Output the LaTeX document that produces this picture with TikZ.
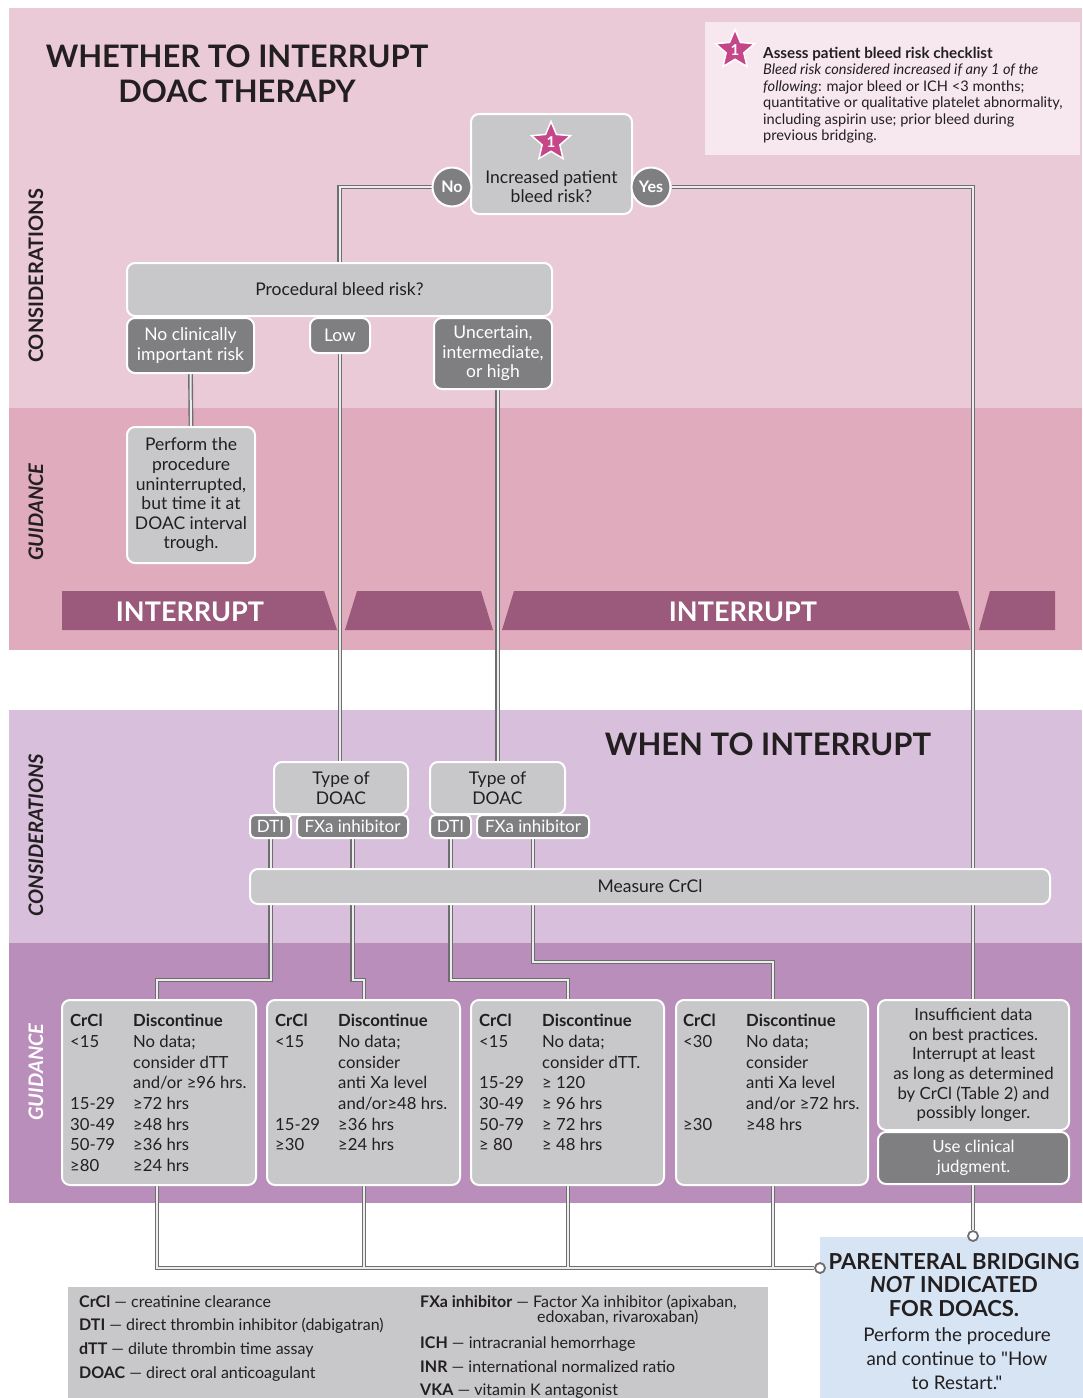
\documentclass[tikz,border=0pt]{standalone}
\usepackage{fontspec}
\setmainfont{Lato}[Ligatures=TeXOff]
\usetikzlibrary{shapes.geometric}

\definecolor{bandA}{HTML}{EBCAD7}
\definecolor{bandB}{HTML}{E0ABBC}
\definecolor{bandC}{HTML}{D8C0DC}
\definecolor{bandD}{HTML}{B98EBB}
\definecolor{banner}{HTML}{9B5A7B}
\definecolor{boxgray}{HTML}{C8C8CA}
\definecolor{darkgray}{HTML}{7F7F81}
\definecolor{starc}{HTML}{C5478A}
\definecolor{notebg}{HTML}{F7E7EE}
\definecolor{bluebg}{HTML}{D6E4F4}
\definecolor{wireout}{HTML}{6E6E70}
\definecolor{wirein}{HTML}{EDEDED}
\definecolor{ink}{HTML}{231F20}

\newcommand\fs[2]{\fontsize{#1}{#2}\selectfont}
\newcommand\crcltab[1]{\begin{tabular}{@{}p{63pt}@{}l@{}}#1\end{tabular}}

\pgfdeclarelayer{bands}
\pgfdeclarelayer{wires}
\pgfsetlayers{bands,wires,main}

\tikzset{
  box/.style={draw=white, line width=2pt, fill=boxgray, rounded corners=8pt,
    text=ink, align=center, inner sep=0pt, font=\fs{17.5}{19.6}},
  darkbox/.style={box, fill=darkgray, text=white},
  pill/.style={darkbox, rounded corners=5pt, minimum height=23pt, font=\fs{17}{17}},
  answer/.style={circle, fill=darkgray, draw=white, line width=2pt, minimum size=39pt,
    inner sep=0pt, text=white, font=\bfseries\fs{16}{16}},
  badge/.style={star, star points=5, star point ratio=2.2, fill=starc, draw=white,
    line width=1.5pt, minimum size=41pt, inner sep=0pt, text=white, font=\bfseries\fs{15}{15}},
  term/.style={circle, draw=wireout, fill=white, line width=1.8pt, minimum size=10pt, inner sep=0pt},
  tabtext/.style={anchor=north west, inner sep=0pt, text=ink, font=\fs{16.7}{20.7}},
  sidelabel/.style={rotate=90, text=ink, font=\bfseries\fs{20}{20}},
  heading/.style={text=ink, font=\bfseries\fs{31}{35}, align=center},
}

% connectors, drawn twice (outline, then core)
\newcommand\wirepaths{%
  \draw (no.west) -| (proc.north);
  \draw (yes.east) -| (tyes.north);
  \draw (nocl.south) -- (perform.north);
  \draw (low.south) -- (low.south |- doac1.north);
  \draw (doac2.north |- unc.south) -- (doac2.north);
  \draw (dti1.south) |- (j1) -- (j1 |- tab1.north);
  \draw (fxa1.south) |- (j2) -- (j2 |- tab2.north);
  \draw (dti2.south) |- (j3) -- (j3 |- tab3.north);
  \draw (fxa2.south) |- (j4) -- (j4 |- tab4.north);
  \foreach \j/\t in {j1/tab1,j2/tab2,j3/tab3,j4/tab4}
    \draw (\j |- \t.south) |- (tpb.west);
}

\begin{document}
\begin{tikzpicture}[x=1pt,y=-1pt]
\useasboundingbox (0,0) rectangle (1082,1398);

% bands
\begin{pgfonlayer}{bands}
\fill[bandA] (9,8) rectangle (1082,408);
\fill[bandB] (9,408) rectangle (1082,650);
\fill[bandC] (9,710) rectangle (1082,943);
\fill[bandD] (9,943) rectangle (1082,1203);
\fill[banner] (62,591) -- (324,591) -- (337,630) -- (62,630) -- cycle;
\fill[banner] (357,591) -- (481,591) -- (493,630) -- (345,630) -- cycle;
\fill[banner] (514,591) -- (958,591) -- (970,630) -- (502,630) -- cycle;
\fill[banner] (990,591) -- (1055,591) -- (1055,630) -- (979,630) -- cycle;
\end{pgfonlayer}

\node[sidelabel] (c1) at (36,276) {CONSIDERATIONS};
\node[sidelabel, font=\bfseries\itshape\fs{20}{20}] (g1) at (36,512) {GUIDANCE};
\node[sidelabel, font=\bfseries\itshape\fs{20}{20}] (c2) at (36,835) {CONSIDERATIONS};
\node[sidelabel, font=\bfseries\itshape\fs{20}{20}, text=white] (g2) at (36,1072) {GUIDANCE};

\node[heading] (title1) at (237,74) {WHETHER TO INTERRUPT\\DOAC THERAPY};
\node[heading] (title2) at (768,744) {WHEN TO INTERRUPT};

% checklist
\node[fill=notebg, anchor=north west, minimum width=375pt, minimum height=133pt] (note) at (705,22) {};
\node[badge] (s1) at (735,50) {1};
\node[anchor=north west, inner sep=0pt, text=ink, font=\fs{14.6}{16.4}, align=left] (notetext) at (763,47)
  {{\fs{15.2}{16.4}\textbf{Assess patient bleed risk checklist}}\\
   \textit{Bleed risk considered increased if any 1 of the}\\
   \textit{following}: major bleed or ICH <3 months;\\
   quantitative or qualitative platelet abnormality,\\
   including aspirin use; prior bleed during\\
   previous bridging.};

% whether to interrupt
\node[box, minimum width=161pt, minimum height=100pt] (qbox) at (551.5,164) {};
\node[badge] (s2) at (551,142) {1};
\node[text=ink, font=\fs{17.5}{19}, align=center] (qtext) at (551.5,186.5) {Increased patient\\bleed risk?};
\node[answer] (no) at (452,187) {No};
\node[answer] (yes) at (651,187) {Yes};

\node[box, minimum width=425pt, minimum height=53pt] (proc) at (339.5,289.5) {Procedural bleed risk?};
\node[darkbox, minimum width=127pt, minimum height=55pt] (nocl) at (190.5,345.5) {No clinically\\important risk};
\node[darkbox, minimum width=60pt, minimum height=35pt] (low) at (340,335.5) {Low};
\node[darkbox, minimum width=118pt, minimum height=71pt] (unc) at (493,353.5) {Uncertain,\\intermediate,\\or high};
\node[box, minimum width=128pt, minimum height=136pt] (perform) at (191,495)
  {Perform the\\procedure\\uninterrupted,\\but time it at\\DOAC interval\\trough.};

\node[font=\bfseries\fs{27}{27}, text=white] (int1) at (190,612) {INTERRUPT};
\node[font=\bfseries\fs{27}{27}, text=white] (int2) at (743,612) {INTERRUPT};

% when to interrupt
\node[box, minimum width=134pt, minimum height=52pt] (doac1) at (341,788) {Type of\\DOAC};
\node[box, minimum width=135pt, minimum height=52pt] (doac2) at (497.5,788) {Type of\\DOAC};
\node[pill, minimum width=41pt] (dti1) at (270.5,826.5) {DTI};
\node[pill, minimum width=111pt] (fxa1) at (352.5,826.5) {FXa inhibitor};
\node[pill, minimum width=41pt] (dti2) at (450.5,826.5) {DTI};
\node[pill, minimum width=112pt] (fxa2) at (533,826.5) {FXa inhibitor};
\node[box, minimum width=800pt, minimum height=35pt] (crcl) at (650,886.5) {Measure CrCl};

\coordinate (j1) at (157,980);
\coordinate (j2) at (364,980);
\coordinate (j3) at (568,980);
\coordinate (j4) at (773,962);

\node[box, minimum width=194pt, minimum height=185pt] (tab1) at (159,1092.5) {};
\node[box, minimum width=193pt, minimum height=185pt] (tab2) at (363.5,1092.5) {};
\node[box, minimum width=193pt, minimum height=185pt] (tab3) at (567.5,1092.5) {};
\node[box, minimum width=192pt, minimum height=185pt] (tab4) at (772,1092.5) {};
\node[box, minimum width=191pt, minimum height=130pt, font=\fs{16.8}{19.6}] (insuf) at (973.5,1065)
  {Insufficient data\\on best practices.\\Interrupt at least\\as long as determined\\by CrCl (Table 2) and\\possibly longer.};
\node[darkbox, minimum width=191pt, minimum height=52pt, font=\fs{16.8}{19.6}] (judg) at (973.5,1158) {Use clinical\\judgment.};

\node[tabtext] (t1) at (70,1012) {\crcltab{%
  \textbf{CrCl} & \textbf{Discontinue}\\
  <15 & No data;\\
   & consider dTT\\
   & and/or ≥96 hrs.\\
  15-29 & ≥72 hrs\\
  30-49 & ≥48 hrs\\
  50-79 & ≥36 hrs\\
  ≥80 & ≥24 hrs}};
\node[tabtext] (t2) at (275,1012) {\crcltab{%
  \textbf{CrCl} & \textbf{Discontinue}\\
  <15 & No data;\\
   & consider\\
   & anti Xa level\\
   & and/or≥48 hrs.\\
  15-29 & ≥36 hrs\\
  ≥30 & ≥24 hrs}};
\node[tabtext] (t3) at (479,1012) {\crcltab{%
  \textbf{CrCl} & \textbf{Discontinue}\\
  <15 & No data;\\
   & consider dTT.\\
  15-29 & ≥ 120\\
  30-49 & ≥ 96 hrs\\
  50-79 & ≥ 72 hrs\\
  ≥ 80 & ≥ 48 hrs}};
\node[tabtext] (t4) at (683,1012) {\crcltab{%
  \textbf{CrCl} & \textbf{Discontinue}\\
  <30 & No data;\\
   & consider\\
   & anti Xa level\\
   & and/or ≥72 hrs.\\
  ≥30 & ≥48 hrs}};

% bridging and glossary
\node[fill=bluebg, anchor=north west, minimum width=280pt, minimum height=170pt] (pbox) at (820,1237) {};
\node[anchor=north, inner sep=0pt, text=ink, font=\bfseries\fs{22}{23.5}, align=center] (ptitle) at (954,1253)
  {PARENTERAL BRIDGING\\\textit{NOT} INDICATED\\FOR DOACS.};
\node[anchor=north, inner sep=0pt, text=ink, font=\fs{18.8}{24}, align=center] (pbody) at (957,1327)
  {Perform the procedure\\and continue to "How\\to Restart."};
\node[term] (tyes) at (973,1236) {};
\node[term] (tpb) at (820,1268) {};

\node[fill=boxgray, anchor=north west, minimum width=700pt, minimum height=120pt] (legend) at (68,1287) {};
\node[anchor=north west, inner sep=0pt, text=ink, font=\fs{16}{23.7}, align=left] (gloss1) at (79,1295)
  {\textbf{CrCl} — creatinine clearance\\
   \textbf{DTI} — direct thrombin inhibitor (dabigatran)\\
   \textbf{dTT} — dilute thrombin time assay\\
   \textbf{DOAC} — direct oral anticoagulant};
\node[anchor=north west, inner sep=0pt, text=ink, font=\fs{16}{23.5}, align=left] (gloss2) at (420,1295)
  {\textbf{FXa inhibitor} — Factor Xa inhibitor (apixaban,\\[-8.5pt]
   \hspace*{117pt}edoxaban, rivaroxaban)\\[2.5pt]
   \textbf{ICH} — intracranial hemorrhage\\
   \textbf{INR} — international normalized ratio\\
   \textbf{VKA} — vitamin K antagonist};

% connectors
\begin{pgfonlayer}{wires}
\begin{scope}[color=wireout, line width=4.8pt] \wirepaths \end{scope}
\begin{scope}[color=wirein, line width=2pt] \wirepaths \end{scope}
\end{pgfonlayer}
\end{tikzpicture}
\end{document}
